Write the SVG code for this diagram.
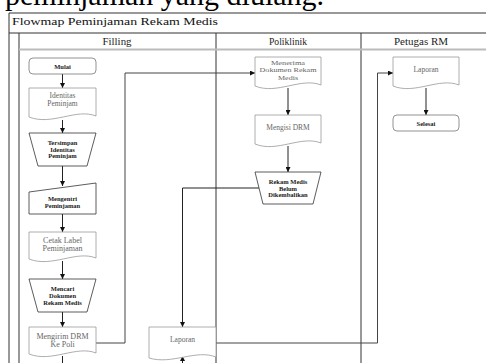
<svg xmlns="http://www.w3.org/2000/svg" width="486" height="363" viewBox="0 0 486 363">
<style>
.frame{fill:none;stroke:#333;stroke-width:1}
.sep{fill:none;stroke:#bbb;stroke-width:2}
.doc{fill:#fff;stroke:#999;stroke-width:0.8}
.op{fill:#fff;stroke:#333;stroke-width:0.8}
.term{fill:#fff;stroke:#777;stroke-width:0.8}
.t{font-family:"Liberation Serif",serif;text-anchor:middle}
.g{fill:#666;font-size:7.5px}
.b{fill:#222;font-size:6.5px;font-weight:bold}
.h{fill:#222;font-size:9.5px}
.conn{fill:none;stroke:#222;stroke-width:1}
.conn2{fill:none;stroke:#444;stroke-width:1}
</style>
<defs>
<marker id="ah" viewBox="0 0 6 6" refX="6" refY="3" markerWidth="5" markerHeight="5" orient="auto" markerUnits="userSpaceOnUse">
<path d="M0,0 L6,3 L0,6 Z" fill="#111"/>
</marker>
</defs>
<rect width="486" height="363" fill="#fff"/>
<text x="5" y="5" font-family="Liberation Serif,serif" font-size="30" fill="#000">peminjaman yang diulang.</text>
<g id="frame">
<path class="frame" d="M9,363 V13 H486"/>
<path class="frame" d="M9,33 H486"/>
<path class="frame" d="M19,33 V363"/>
<path class="frame" d="M216,33 V363"/>
<path class="frame" d="M361,33 V363"/>
<path class="sep" d="M19,49.5 H486"/>
<text x="12" y="25" font-family="Liberation Serif,serif" font-size="11" fill="#111" textLength="206" lengthAdjust="spacingAndGlyphs">Flowmap Peminjaman Rekam Medis</text>
<text class="t h" x="117" y="45" textLength="29" lengthAdjust="spacingAndGlyphs">Filling</text>
<text class="t h" x="288" y="45" textLength="38" lengthAdjust="spacingAndGlyphs">Poliklinik</text>
<text class="t h" x="421" y="45" textLength="54" lengthAdjust="spacingAndGlyphs">Petugas RM</text>
</g>
<g id="connectors">
<path class="conn" d="M62.5,74 V88" marker-end="url(#ah)"/>
<path class="conn" d="M62.5,120 V133" marker-end="url(#ah)"/>
<path class="conn" d="M62.5,166 V186" marker-end="url(#ah)"/>
<path class="conn" d="M62.5,214 V232" marker-end="url(#ah)"/>
<path class="conn" d="M62.5,261 V279" marker-end="url(#ah)"/>
<path class="conn" d="M62.5,312 V327" marker-end="url(#ah)"/>
<path class="conn" d="M62.5,356 V363"/>
<path class="conn2" d="M96,343 H125 V73 H255" marker-end="url(#ah)"/>
<path class="conn" d="M288,88 V115" marker-end="url(#ah)"/>
<path class="conn" d="M288,146 V172" marker-end="url(#ah)"/>
<path class="conn" d="M259,188 H182.5 V327" marker-end="url(#ah)"/>
<path class="conn" d="M182.5,363 V356" marker-end="url(#ah)"/>
<path class="conn2" d="M216,343 H377.5 V73 H393" marker-end="url(#ah)"/>
<path class="conn" d="M426,88 V115" marker-end="url(#ah)"/>
</g>
<g id="mulai">
<rect class="term" x="29" y="58" width="67" height="16" rx="4"/>
<text class="t b" x="62.5" y="68.5">Mulai</text>
</g>
<g id="identitas">
<path class="doc" d="M29,88 H96 V116 C76,108 52,126 29,117 Z"/>
<text class="t g" x="62.5" y="98">Identitas</text>
<text class="t g" x="62.5" y="106">Peminjam</text>
</g>
<g id="tersimpan">
<path class="op" d="M29,133 H96 L87,166 H38 Z"/>
<text class="t b" x="62.5" y="145">Tersimpan</text>
<text class="t b" x="62.5" y="151.5">Identitas</text>
<text class="t b" x="62.5" y="158">Peminjam</text>
</g>
<g id="mengentri">
<path class="op" d="M29,192 L96,183 V214 H29 Z"/>
<text class="t b" x="62.5" y="201">Mengentri</text>
<text class="t b" x="62.5" y="208">Peminjaman</text>
</g>
<g id="cetak">
<path class="doc" d="M29,232 H96 V258 C76,250 52,268 29,259 Z"/>
<text class="t g" x="62.5" y="242.5" style="font-size:8px">Cetak Label</text>
<text class="t g" x="62.5" y="250.5" style="font-size:8px">Peminjaman</text>
</g>
<g id="mencari">
<path class="op" d="M29,279 H96 L87,312 H38 Z"/>
<text class="t b" x="62.5" y="291">Mencari</text>
<text class="t b" x="62.5" y="298">Dokumen</text>
<text class="t b" x="62.5" y="305">Rekam Medis</text>
</g>
<g id="mengirim">
<path class="doc" d="M29,327 H96 V353 C76,345 52,363 29,354 Z"/>
<text class="t g" x="62.5" y="338.5" style="font-size:8px">Mengirim DRM</text>
<text class="t g" x="62.5" y="346.5" style="font-size:8px">Ke Poli</text>
</g>
<g id="laporan-filling">
<path class="doc" d="M149,327 H216 V357 C196,349 172,365 149,358 Z"/>
<text class="t g" x="182.5" y="342">Laporan</text>
</g>
<g id="menerima">
<path class="doc" d="M255,57 H321 V85 C301,77 277,95 255,86 Z"/>
<text class="t g" x="288" y="64.5" style="font-size:7px" textLength="34" lengthAdjust="spacingAndGlyphs">Menerima</text>
<text class="t g" x="288" y="72" style="font-size:7px" textLength="57" lengthAdjust="spacingAndGlyphs">Dokumen Rekam</text>
<text class="t g" x="288" y="79.5" style="font-size:7px" textLength="20" lengthAdjust="spacingAndGlyphs">Medis</text>
</g>
<g id="mengisi">
<path class="doc" d="M255,115 H321 V143 C301,135 277,153 255,144 Z"/>
<text class="t g" x="288" y="129.5">Mengisi DRM</text>
</g>
<g id="rekam-medis">
<path class="op" d="M255,172 H321 L313,204 H263 Z"/>
<text class="t b" x="288" y="184">Rekam Medis</text>
<text class="t b" x="288" y="190.5">Belum</text>
<text class="t b" x="288" y="197">Dikembalikan</text>
</g>
<g id="laporan-rm">
<path class="doc" d="M393,57 H459 V85 C439,77 415,95 393,86 Z"/>
<text class="t g" x="426" y="72">Laporan</text>
</g>
<g id="selesai">
<rect class="term" x="393" y="115" width="66" height="16" rx="4"/>
<text class="t b" x="426" y="125.5">Selesai</text>
</g>
</svg>
